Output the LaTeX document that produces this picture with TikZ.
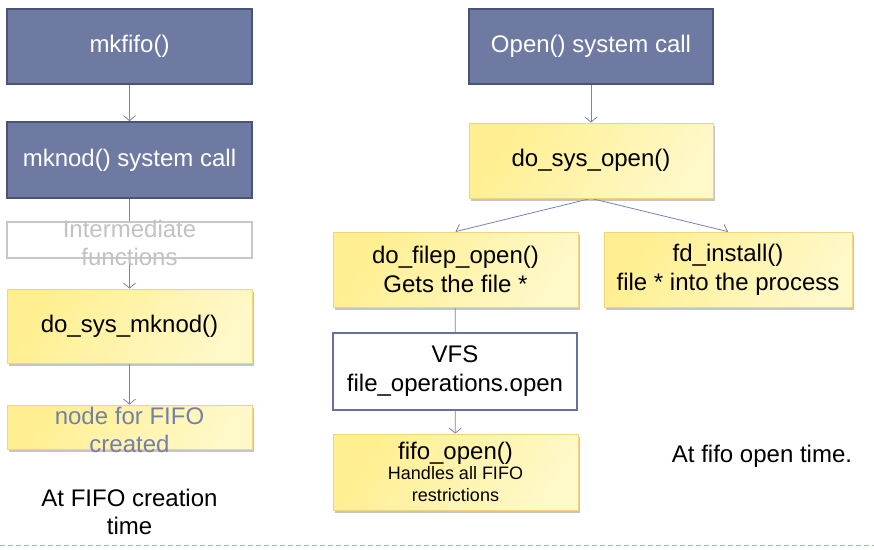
\documentclass[tikz,border=0pt]{standalone}
\usepackage{fontspec}
\setmainfont{Liberation Sans}
\usepackage{tikz}
\usetikzlibrary{arrows.meta, shadows}
\pgfdeclarelayer{background}
\pgfsetlayers{background,main}

\definecolor{boxDark}{HTML}{6E7AA1}
\definecolor{boxLine}{HTML}{4A5479}
\definecolor{vfsLine}{HTML}{6670A0}
\definecolor{yelTop}{HTML}{FFEF90}
\definecolor{yelBot}{HTML}{FFF8C8}
\definecolor{yelLine}{HTML}{F2D47C}
\definecolor{arrCol}{HTML}{7882AE}
\definecolor{grayTxt}{HTML}{C2C2C2}
\definecolor{grayLine}{HTML}{C8C8C8}
\definecolor{blueTxt}{HTML}{7580A8}
\definecolor{dashBlue}{HTML}{9BB7D4}

\newcommand{\smallTxt}{\fontsize{18}{21}\selectfont}

\begin{document}
\begin{tikzpicture}[x=1pt, y=-1pt]

    % Arial-like text
    \tikzset{bx/.style={shape = rectangle, inner sep = 2pt, minimum width = 245pt, minimum height = 75pt, align = center, font = \fontsize{24}{29}\selectfont}}
    \tikzset{lbl/.style={inner sep = 0pt, align = center, font = \fontsize{24}{28}\selectfont}}

    % Boxes
    \tikzset{dkB/.style={bx, draw = boxLine, line width = 1.6pt, fill = boxDark, text = white}}
    \tikzset{ylB/.style={bx, draw = yelLine, line width = 0.8pt, top color = yelTop, bottom color = yelBot, shading angle = 55,
        drop shadow = {shadow xshift = 1.5pt, shadow yshift = -2.5pt, fill = black!45, opacity = 0.5}}}
    \tikzset{wtB/.style={bx, draw = grayLine, line width = 1.6pt, fill = white}}

    % Connectors
    \tikzset{arr/.style={draw = arrCol, line width = 0.8pt, -{Straight Barb[length = 5pt, width = 12pt]}}}
    \tikzset{ln/.style={draw = arrCol, line width = 0.8pt}}

    \useasboundingbox (0, 0) rectangle (874, 549);

    % FIFO creation
    \node (mkfifo) [dkB] at (129.5, 46.5) {mkfifo()};
    \node (mknod) [dkB, minimum height = 76pt] at (129.5, 160) {mknod() system call};
    \node (inter) [wtB, minimum height = 36pt] at (129.5, 240) {};
        \node (interT) [lbl, text = grayTxt] at (129.5, 242.5) {Intermediate\\functions};
    \node (mknodfn) [ylB, minimum height = 74pt] at (129.5, 326) {do\_sys\_mknod()};
    \node (fifonode) [ylB, minimum height = 44pt] at (129.5, 427) {};
        \node (fifonodeT) [lbl, text = blueTxt] at (129.5, 429.5) {node for FIFO\\created};
    \node (createT) [lbl] at (129.5, 512) {At FIFO creation\\time};

    % FIFO open
    \node (open) [dkB, minimum width = 244pt] at (591, 46.5) {Open() system call};
    \node (sysopen) [ylB, minimum width = 244pt] at (591, 160.5) {do\_sys\_open()};
        \node (filep) [ylB] at (455.5, 269.5) {do\_filep\_open()\\Gets the file *};
        \node (fdinst) [ylB, minimum width = 248pt] at (728, 269.5) {fd\_install()\\file * into the process};
    \node (vfs) [wtB, draw = vfsLine, minimum width = 244pt, minimum height = 77pt] at (455, 371.5) {VFS\\file\_operations.open};
    \node (fifoopen) [ylB, minimum height = 76pt] at (455.5, 472)
        {fifo\_open()\\[-9pt]\smallTxt Handles all FIFO\\[-7pt]\smallTxt restrictions};
    \node (openT) [lbl] at (762, 456) {At fifo open time.};

    % Background image
    \begin{pgfonlayer}{background}

        \path[arr] (mkfifo) -- (mknod);
        \path[arr] (mknod) -- (mknodfn);
        \path[arr] (mknodfn) -- (fifonode);

        \path[arr] (open) -- (sysopen);
            \path[arr] (sysopen.south) -- (filep.north);
            \path[arr] (sysopen.south) -- (fdinst.north);
        \path[ln] (filep) -- (vfs);
        \path[arr] (vfs) -- (fifoopen);

    \end{pgfonlayer}

    % Slide edge
    \draw[dashBlue, line width = 0.8pt, dash pattern = on 5pt off 3pt] (0, 545) -- (874, 545);

\end{tikzpicture}
\end{document}
